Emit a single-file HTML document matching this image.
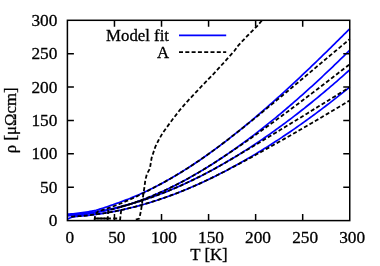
<!DOCTYPE html>
<html><head><meta charset="utf-8"><title>plot</title>
<style>
html,body{margin:0;padding:0;background:#fff;}
body{width:380px;height:266px;overflow:hidden;}
svg{display:block;will-change:transform;}
text{font-family:"Liberation Serif",serif;font-size:16.8px;fill:#000;stroke:#000;stroke-width:0.3px;}
text.n{font-size:17.3px;}
.ax path,.ax rect{stroke:#000;stroke-width:1.5;fill:none;}
.d{stroke:#000;stroke-width:1.8;fill:none;stroke-dasharray:4 2.3;}
.b{stroke:#0000ff;stroke-width:1.7;fill:none;}
</style></head><body>
<svg width="380" height="266" viewBox="0 0 380 266">
<rect x="0" y="0" width="380" height="266" fill="#fff"/>
<g class="cv">
<path class="b" d="M67.40,214.11 L69.29,214.01 L71.19,213.89 L73.08,213.74 L74.98,213.57 L76.87,213.38 L78.77,213.17 L80.66,212.93 L82.56,212.67 L84.45,212.39 L86.35,212.09 L88.24,211.77 L90.14,211.43 L92.03,211.06 L93.93,210.66 L95.82,210.21 L97.72,209.70 L99.61,209.15 L101.51,208.57 L103.40,207.97 L105.30,207.36 L107.19,206.73 L109.09,206.06 L110.98,205.38 L112.88,204.70 L114.77,204.04 L116.67,203.37 L118.56,202.70 L120.46,202.01 L122.35,201.31 L124.25,200.61 L126.14,199.90 L128.04,199.17 L129.93,198.42 L131.83,197.65 L133.72,196.87 L135.62,196.08 L137.51,195.26 L139.41,194.43 L141.30,193.58 L143.20,192.72 L145.09,191.84 L146.99,190.95 L148.88,190.04 L150.78,189.11 L152.67,188.17 L154.57,187.21 L156.46,186.24 L158.36,185.25 L160.25,184.25 L162.15,183.23 L164.04,182.20 L165.94,181.15 L167.83,180.09 L169.73,179.01 L171.62,177.92 L173.52,176.82 L175.41,175.70 L177.31,174.57 L179.20,173.42 L181.10,172.26 L182.99,171.08 L184.89,169.90 L186.78,168.70 L188.68,167.48 L190.57,166.25 L192.47,165.01 L194.36,163.76 L196.26,162.49 L198.15,161.22 L200.05,159.93 L201.94,158.62 L203.84,157.31 L205.73,155.98 L207.63,154.64 L209.52,153.29 L211.42,151.92 L213.31,150.55 L215.21,149.16 L217.10,147.76 L219.00,146.35 L220.89,144.93 L222.79,143.50 L224.68,142.06 L226.58,140.60 L228.47,139.14 L230.37,137.67 L232.26,136.18 L234.16,134.68 L236.05,133.18 L237.95,131.66 L239.84,130.14 L241.74,128.60 L243.63,127.06 L245.53,125.50 L247.42,123.94 L249.32,122.36 L251.21,120.78 L253.11,119.19 L255.00,117.59 L256.90,115.98 L258.79,114.36 L260.69,112.73 L262.58,111.09 L264.48,109.45 L266.37,107.80 L268.27,106.14 L270.16,104.47 L272.06,102.79 L273.95,101.11 L275.85,99.42 L277.74,97.72 L279.64,96.01 L281.53,94.29 L283.43,92.57 L285.32,90.84 L287.22,89.11 L289.11,87.37 L291.01,85.62 L292.90,83.86 L294.80,82.10 L296.69,80.33 L298.59,78.56 L300.48,76.78 L302.38,74.99 L304.27,73.20 L306.17,71.40 L308.06,69.60 L309.96,67.79 L311.85,65.97 L313.75,64.15 L315.64,62.33 L317.54,60.50 L319.43,58.66 L321.33,56.82 L323.22,54.98 L325.12,53.13 L327.01,51.28 L328.91,49.42 L330.80,47.56 L332.70,45.69 L334.59,43.83 L336.49,41.95 L338.38,40.08 L340.28,38.20 L342.17,36.31 L344.07,34.43 L345.96,32.54 L347.86,30.64 L349.75,28.75"/>
<path class="b" d="M67.40,215.85 L69.29,215.76 L71.19,215.65 L73.08,215.53 L74.98,215.39 L76.87,215.23 L78.77,215.06 L80.66,214.87 L82.56,214.66 L84.45,214.43 L86.35,214.19 L88.24,213.93 L90.14,213.65 L92.03,213.36 L93.93,213.05 L95.82,212.73 L97.72,212.39 L99.61,212.03 L101.51,211.65 L103.40,211.26 L105.30,210.86 L107.19,210.44 L109.09,210.00 L110.98,209.54 L112.88,209.07 L114.77,208.59 L116.67,208.09 L118.56,207.57 L120.46,207.04 L122.35,206.49 L124.25,205.93 L126.14,205.35 L128.04,204.75 L129.93,204.14 L131.83,203.52 L133.72,202.88 L135.62,202.23 L137.51,201.56 L139.41,200.88 L141.30,200.18 L143.20,199.46 L145.09,198.74 L146.99,198.00 L148.88,197.24 L150.78,196.47 L152.67,195.68 L154.57,194.88 L156.46,194.07 L158.36,193.24 L160.25,192.40 L162.15,191.55 L164.04,190.68 L165.94,189.80 L167.83,188.90 L169.73,187.99 L171.62,187.07 L173.52,186.13 L175.41,185.18 L177.31,184.22 L179.20,183.24 L181.10,182.25 L182.99,181.25 L184.89,180.23 L186.78,179.20 L188.68,178.16 L190.57,177.10 L192.47,176.03 L194.36,174.95 L196.26,173.86 L198.15,172.76 L200.05,171.64 L201.94,170.51 L203.84,169.37 L205.73,168.21 L207.63,167.04 L209.52,165.86 L211.42,164.67 L213.31,163.47 L215.21,162.26 L217.10,161.03 L219.00,159.79 L220.89,158.54 L222.79,157.28 L224.68,156.01 L226.58,154.72 L228.47,153.42 L230.37,152.12 L232.26,150.80 L234.16,149.47 L236.05,148.13 L237.95,146.78 L239.84,145.41 L241.74,144.04 L243.63,142.66 L245.53,141.26 L247.42,139.86 L249.32,138.44 L251.21,137.01 L253.11,135.58 L255.00,134.13 L256.90,132.67 L258.79,131.20 L260.69,129.73 L262.58,128.24 L264.48,126.74 L266.37,125.23 L268.27,123.71 L270.16,122.19 L272.06,120.65 L273.95,119.10 L275.85,117.55 L277.74,115.98 L279.64,114.40 L281.53,112.82 L283.43,111.23 L285.32,109.62 L287.22,108.01 L289.11,106.39 L291.01,104.76 L292.90,103.12 L294.80,101.47 L296.69,99.82 L298.59,98.15 L300.48,96.48 L302.38,94.80 L304.27,93.10 L306.17,91.41 L308.06,89.70 L309.96,87.98 L311.85,86.26 L313.75,84.53 L315.64,82.79 L317.54,81.04 L319.43,79.28 L321.33,77.52 L323.22,75.75 L325.12,73.97 L327.01,72.18 L328.91,70.39 L330.80,68.59 L332.70,66.78 L334.59,64.96 L336.49,63.14 L338.38,61.31 L340.28,59.47 L342.17,57.62 L344.07,55.77 L345.96,53.91 L347.86,52.05 L349.75,50.18"/>
<path class="b" d="M67.40,214.97 L69.29,214.85 L71.19,214.71 L73.08,214.56 L74.98,214.40 L76.87,214.23 L78.77,214.04 L80.66,213.84 L82.56,213.62 L84.45,213.40 L86.35,213.16 L88.24,212.90 L90.14,212.64 L92.03,212.36 L93.93,212.07 L95.82,211.76 L97.72,211.45 L99.61,211.12 L101.51,210.78 L103.40,210.42 L105.30,210.05 L107.19,209.67 L109.09,209.28 L110.98,208.88 L112.88,208.46 L114.77,208.03 L116.67,207.59 L118.56,207.13 L120.46,206.66 L122.35,206.18 L124.25,205.69 L126.14,205.19 L128.04,204.67 L129.93,204.15 L131.83,203.60 L133.72,203.05 L135.62,202.49 L137.51,201.91 L139.41,201.32 L141.30,200.72 L143.20,200.11 L145.09,199.49 L146.99,198.85 L148.88,198.20 L150.78,197.54 L152.67,196.87 L154.57,196.19 L156.46,195.50 L158.36,194.79 L160.25,194.07 L162.15,193.34 L164.04,192.60 L165.94,191.85 L167.83,191.09 L169.73,190.31 L171.62,189.53 L173.52,188.73 L175.41,187.92 L177.31,187.10 L179.20,186.27 L181.10,185.42 L182.99,184.57 L184.89,183.71 L186.78,182.83 L188.68,181.94 L190.57,181.04 L192.47,180.14 L194.36,179.22 L196.26,178.28 L198.15,177.34 L200.05,176.39 L201.94,175.43 L203.84,174.45 L205.73,173.47 L207.63,172.47 L209.52,171.46 L211.42,170.45 L213.31,169.42 L215.21,168.38 L217.10,167.33 L219.00,166.27 L220.89,165.20 L222.79,164.12 L224.68,163.03 L226.58,161.93 L228.47,160.82 L230.37,159.70 L232.26,158.57 L234.16,157.42 L236.05,156.27 L237.95,155.11 L239.84,153.94 L241.74,152.75 L243.63,151.56 L245.53,150.36 L247.42,149.15 L249.32,147.92 L251.21,146.69 L253.11,145.45 L255.00,144.20 L256.90,142.93 L258.79,141.66 L260.69,140.38 L262.58,139.09 L264.48,137.79 L266.37,136.48 L268.27,135.16 L270.16,133.83 L272.06,132.49 L273.95,131.14 L275.85,129.78 L277.74,128.41 L279.64,127.04 L281.53,125.65 L283.43,124.25 L285.32,122.85 L287.22,121.43 L289.11,120.01 L291.01,118.58 L292.90,117.14 L294.80,115.69 L296.69,114.23 L298.59,112.76 L300.48,111.28 L302.38,109.79 L304.27,108.30 L306.17,106.79 L308.06,105.28 L309.96,103.76 L311.85,102.22 L313.75,100.68 L315.64,99.14 L317.54,97.58 L319.43,96.01 L321.33,94.44 L323.22,92.85 L325.12,91.26 L327.01,89.66 L328.91,88.05 L330.80,86.44 L332.70,84.81 L334.59,83.18 L336.49,81.53 L338.38,79.88 L340.28,78.22 L342.17,76.56 L344.07,74.88 L345.96,73.20 L347.86,71.51 L349.75,69.81"/>
<path class="b" d="M67.40,219.34 L69.29,218.16 L71.19,217.45 L73.08,217.00 L74.98,216.70 L76.87,216.46 L78.77,216.27 L80.66,216.09 L82.56,215.91 L84.45,215.73 L86.35,215.54 L88.24,215.34 L90.14,215.13 L92.03,214.91 L93.93,214.68 L95.82,214.43 L97.72,214.18 L99.61,213.91 L101.51,213.63 L103.40,213.34 L105.30,213.03 L107.19,212.72 L109.09,212.39 L110.98,212.05 L112.88,211.70 L114.77,211.33 L116.67,210.96 L118.56,210.57 L120.46,210.17 L122.35,209.76 L124.25,209.34 L126.14,208.91 L128.04,208.46 L129.93,208.01 L131.83,207.54 L133.72,207.06 L135.62,206.57 L137.51,206.07 L139.41,205.56 L141.30,205.03 L143.20,204.50 L145.09,203.95 L146.99,203.39 L148.88,202.82 L150.78,202.24 L152.67,201.65 L154.57,201.05 L156.46,200.44 L158.36,199.81 L160.25,199.18 L162.15,198.53 L164.04,197.88 L165.94,197.21 L167.83,196.53 L169.73,195.84 L171.62,195.14 L173.52,194.43 L175.41,193.71 L177.31,192.98 L179.20,192.24 L181.10,191.49 L182.99,190.72 L184.89,189.95 L186.78,189.17 L188.68,188.37 L190.57,187.57 L192.47,186.75 L194.36,185.93 L196.26,185.10 L198.15,184.25 L200.05,183.40 L201.94,182.53 L203.84,181.66 L205.73,180.77 L207.63,179.88 L209.52,178.97 L211.42,178.06 L213.31,177.13 L215.21,176.20 L217.10,175.25 L219.00,174.30 L220.89,173.33 L222.79,172.36 L224.68,171.38 L226.58,170.38 L228.47,169.38 L230.37,168.37 L232.26,167.35 L234.16,166.32 L236.05,165.28 L237.95,164.23 L239.84,163.17 L241.74,162.10 L243.63,161.03 L245.53,159.94 L247.42,158.84 L249.32,157.74 L251.21,156.62 L253.11,155.50 L255.00,154.37 L256.90,153.23 L258.79,152.08 L260.69,150.92 L262.58,149.75 L264.48,148.58 L266.37,147.39 L268.27,146.20 L270.16,144.99 L272.06,143.78 L273.95,142.56 L275.85,141.33 L277.74,140.09 L279.64,138.85 L281.53,137.59 L283.43,136.33 L285.32,135.06 L287.22,133.78 L289.11,132.49 L291.01,131.19 L292.90,129.89 L294.80,128.58 L296.69,127.25 L298.59,125.92 L300.48,124.59 L302.38,123.24 L304.27,121.89 L306.17,120.52 L308.06,119.15 L309.96,117.78 L311.85,116.39 L313.75,115.00 L315.64,113.60 L317.54,112.19 L319.43,110.77 L321.33,109.34 L323.22,107.91 L325.12,106.47 L327.01,105.02 L328.91,103.57 L330.80,102.10 L332.70,100.63 L334.59,99.16 L336.49,97.67 L338.38,96.18 L340.28,94.68 L342.17,93.17 L344.07,91.65 L345.96,90.13 L347.86,88.60 L349.75,87.07"/>
<path class="d" d="M94.50,220.00 L95.30,214.50 L97.99,211.36 L99.68,210.87 L101.37,210.35 L103.06,209.82 L104.75,209.28 L106.44,208.72 L108.13,208.14 L109.82,207.54 L111.51,206.93 L113.20,206.33 L114.88,205.74 L116.57,205.13 L118.26,204.45 L119.95,203.76 L121.64,203.06 L123.33,202.36 L125.02,201.66 L126.71,200.94 L128.40,200.20 L130.09,199.46 L131.78,198.70 L133.47,197.92 L135.16,197.14 L136.85,196.34 L138.54,195.53 L140.23,194.70 L141.92,193.86 L143.61,193.01 L145.30,192.15 L146.99,191.27 L148.68,190.38 L150.37,189.48 L152.06,188.57 L153.75,187.64 L155.44,186.77 L157.13,185.89 L158.82,185.01 L160.51,184.11 L162.20,183.20 L163.89,182.28 L165.58,181.35 L167.26,180.41 L168.95,179.45 L170.64,178.49 L172.33,177.51 L174.02,176.52 L175.71,175.52 L177.40,174.51 L179.09,173.49 L180.78,172.45 L182.47,171.41 L184.16,170.35 L185.85,169.29 L187.54,168.21 L189.23,167.12 L190.92,166.03 L192.61,164.92 L194.30,163.80 L195.99,162.67 L197.68,161.54 L199.37,160.39 L201.06,159.23 L202.75,158.06 L204.44,156.89 L206.13,155.70 L207.82,154.50 L209.51,153.30 L211.20,152.08 L212.89,150.86 L214.58,149.62 L216.27,148.38 L217.96,147.13 L219.64,145.87 L221.33,144.60 L223.02,143.32 L224.71,142.03 L226.40,140.74 L228.09,139.43 L229.78,138.12 L231.47,136.80 L233.16,135.48 L234.85,134.16 L236.54,132.83 L238.23,131.49 L239.92,130.15 L241.61,128.81 L243.30,127.47 L244.99,126.12 L246.68,124.77 L248.37,123.41 L250.06,122.05 L251.75,120.69 L253.44,119.33 L255.13,117.96 L256.82,116.59 L258.51,115.21 L260.20,113.84 L261.89,112.46 L263.58,111.07 L265.27,109.69 L266.96,108.30 L268.65,106.91 L270.34,105.52 L272.02,104.13 L273.71,102.73 L275.40,101.33 L277.09,99.93 L278.78,98.53 L280.47,97.13 L282.16,95.72 L283.85,94.32 L285.54,92.91 L287.23,91.50 L288.92,90.09 L290.61,88.68 L292.30,87.26 L293.99,85.85 L295.68,84.43 L297.37,83.02 L299.06,81.60 L300.75,80.18 L302.44,78.76 L304.13,77.34 L305.82,75.93 L307.51,74.51 L309.20,73.09 L310.89,71.66 L312.58,70.24 L314.27,68.82 L315.96,67.40 L317.65,65.98 L319.34,64.56 L321.03,63.14 L322.72,61.72 L324.40,60.30 L326.09,58.89 L327.78,57.47 L329.47,56.05 L331.16,54.64 L332.85,53.22 L334.54,51.81 L336.23,50.39 L337.92,48.98 L339.61,47.57 L341.30,46.16 L342.99,44.75 L344.68,43.35 L346.37,41.94 L348.06,40.54 L349.75,39.14"/>
<path class="d" d="M97.60,218.50 L107.00,218.50"/>
<path class="d" d="M107.60,220.30 L108.25,210.19 L109.87,209.81 L111.49,209.42 L113.11,209.02 L114.73,208.60 L116.35,208.17 L117.97,207.73 L119.59,207.28 L121.21,206.82 L122.83,206.35 L124.45,205.86 L126.08,205.37 L127.70,204.86 L129.32,204.34 L130.94,203.82 L132.56,203.28 L134.18,202.73 L135.80,202.16 L137.42,201.59 L139.04,201.01 L140.66,200.42 L142.28,199.81 L143.90,199.20 L145.53,198.57 L147.15,197.93 L148.77,197.29 L150.39,196.63 L152.01,195.96 L153.63,195.28 L155.25,194.59 L156.87,193.89 L158.49,193.19 L160.11,192.47 L161.73,191.74 L163.35,191.00 L164.98,190.25 L166.60,189.49 L168.22,188.72 L169.84,187.94 L171.46,187.15 L173.08,186.35 L174.70,185.54 L176.32,184.72 L177.94,183.89 L179.56,183.05 L181.18,182.20 L182.80,181.35 L184.43,180.48 L186.05,179.60 L187.67,178.71 L189.29,177.82 L190.91,176.91 L192.53,176.00 L194.15,175.08 L195.77,174.14 L197.39,173.20 L199.01,172.25 L200.63,171.29 L202.25,170.32 L203.88,169.34 L205.50,168.36 L207.12,167.36 L208.74,166.35 L210.36,165.34 L211.98,164.32 L213.60,163.29 L215.22,162.25 L216.84,161.20 L218.46,160.14 L220.08,159.08 L221.70,158.01 L223.33,156.94 L224.95,155.87 L226.57,154.79 L228.19,153.70 L229.81,152.62 L231.43,151.53 L233.05,150.43 L234.67,149.33 L236.29,148.23 L237.91,147.12 L239.53,146.01 L241.15,144.90 L242.78,143.78 L244.40,142.66 L246.02,141.53 L247.64,140.40 L249.26,139.27 L250.88,138.14 L252.50,137.00 L254.12,135.86 L255.74,134.71 L257.36,133.56 L258.98,132.41 L260.60,131.25 L262.23,130.10 L263.85,128.94 L265.47,127.77 L267.09,126.60 L268.71,125.43 L270.33,124.26 L271.95,123.08 L273.57,121.91 L275.19,120.72 L276.81,119.54 L278.43,118.35 L280.05,117.16 L281.68,115.97 L283.30,114.78 L284.92,113.58 L286.54,112.38 L288.16,111.18 L289.78,109.97 L291.40,108.77 L293.02,107.56 L294.64,106.35 L296.26,105.13 L297.88,103.92 L299.50,102.70 L301.13,101.48 L302.75,100.26 L304.37,99.04 L305.99,97.81 L307.61,96.58 L309.23,95.36 L310.85,94.12 L312.47,92.89 L314.09,91.66 L315.71,90.42 L317.33,89.19 L318.95,87.95 L320.58,86.71 L322.20,85.46 L323.82,84.22 L325.44,82.98 L327.06,81.73 L328.68,80.48 L330.30,79.24 L331.92,77.99 L333.54,76.74 L335.16,75.48 L336.78,74.23 L338.40,72.98 L340.03,71.72 L341.65,70.47 L343.27,69.21 L344.89,67.96 L346.51,66.70 L348.13,65.44 L349.75,64.18"/>
<path class="d" d="M94.30,218.50 L119.40,218.50"/>
<path class="d" d="M120.00,220.30 L121.61,206.37 L123.14,205.98 L124.67,205.58 L126.20,205.17 L127.74,204.76 L129.27,204.33 L130.80,203.90 L132.33,203.46 L133.86,203.01 L135.39,202.56 L136.92,202.09 L138.45,201.62 L139.98,201.14 L141.52,200.66 L143.05,200.16 L144.58,199.66 L146.11,199.15 L147.64,198.63 L149.17,198.10 L150.70,197.57 L152.23,197.03 L153.76,196.48 L155.30,195.93 L156.83,195.36 L158.36,194.79 L159.89,194.21 L161.42,193.63 L162.95,193.03 L164.48,192.43 L166.01,191.82 L167.55,191.20 L169.08,190.58 L170.61,189.95 L172.14,189.31 L173.67,188.66 L175.20,188.01 L176.73,187.35 L178.26,186.68 L179.79,186.01 L181.33,185.32 L182.86,184.63 L184.39,183.94 L185.92,183.23 L187.45,182.52 L188.98,181.80 L190.51,181.07 L192.04,180.34 L193.57,179.60 L195.11,178.85 L196.64,178.10 L198.17,177.33 L199.70,176.57 L201.23,175.79 L202.76,175.01 L204.29,174.22 L205.82,173.42 L207.35,172.61 L208.89,171.80 L210.42,170.99 L211.95,170.16 L213.48,169.33 L215.01,168.49 L216.54,167.64 L218.07,166.79 L219.60,165.93 L221.13,165.06 L222.67,164.19 L224.20,163.31 L225.73,162.43 L227.26,161.53 L228.79,160.64 L230.32,159.75 L231.85,158.85 L233.38,157.96 L234.92,157.06 L236.45,156.16 L237.98,155.26 L239.51,154.36 L241.04,153.45 L242.57,152.55 L244.10,151.64 L245.63,150.74 L247.16,149.83 L248.70,148.92 L250.23,148.01 L251.76,147.09 L253.29,146.18 L254.82,145.27 L256.35,144.35 L257.88,143.44 L259.41,142.52 L260.94,141.60 L262.48,140.68 L264.01,139.76 L265.54,138.84 L267.07,137.92 L268.60,136.99 L270.13,136.07 L271.66,135.15 L273.19,134.22 L274.72,133.29 L276.26,132.36 L277.79,131.44 L279.32,130.51 L280.85,129.58 L282.38,128.65 L283.91,127.71 L285.44,126.78 L286.97,125.85 L288.50,124.91 L290.04,123.98 L291.57,123.04 L293.10,122.11 L294.63,121.17 L296.16,120.23 L297.69,119.30 L299.22,118.36 L300.75,117.42 L302.28,116.48 L303.82,115.54 L305.35,114.60 L306.88,113.66 L308.41,112.71 L309.94,111.77 L311.47,110.83 L313.00,109.89 L314.53,108.94 L316.07,108.00 L317.60,107.06 L319.13,106.11 L320.66,105.17 L322.19,104.22 L323.72,103.28 L325.25,102.33 L326.78,101.38 L328.31,100.44 L329.85,99.49 L331.38,98.55 L332.91,97.60 L334.44,96.65 L335.97,95.70 L337.50,94.76 L339.03,93.81 L340.56,92.86 L342.09,91.92 L343.63,90.97 L345.16,90.02 L346.69,89.07 L348.22,88.12 L349.75,87.18"/>
<path class="d" d="M71.16,216.65 L73.03,216.55 L74.90,216.45 L76.77,216.33 L78.64,216.20 L80.51,216.05 L82.38,215.90 L84.25,215.73 L86.12,215.55 L87.99,215.36 L89.86,215.16 L91.73,214.94 L93.60,214.72 L95.47,214.48 L97.34,214.23 L99.21,213.97 L101.08,213.69 L102.95,213.41 L104.82,213.11 L106.69,212.80 L108.56,212.48 L110.43,212.15 L112.30,211.81 L114.17,211.45 L116.04,211.09 L117.91,210.71 L119.78,210.32 L121.65,209.92 L123.52,209.51 L125.39,209.08 L127.26,208.65 L129.13,208.20 L131.00,207.75 L132.86,207.28 L134.73,206.80 L136.60,206.31 L138.47,205.81 L140.34,205.30 L142.21,204.78 L144.08,204.24 L145.95,203.70 L147.82,203.14 L149.69,202.58 L151.56,202.00 L153.43,201.41 L155.30,200.81 L157.17,200.20 L159.04,199.58 L160.91,198.95 L162.78,198.31 L164.65,197.66 L166.52,197.00 L168.39,196.33 L170.26,195.65 L172.13,194.95 L174.00,194.25 L175.87,193.54 L177.74,192.81 L179.61,192.08 L181.48,191.33 L183.35,190.58 L185.22,189.81 L187.09,189.04 L188.96,188.26 L190.83,187.46 L192.70,186.66 L194.56,185.84 L196.43,185.02 L198.30,184.18 L200.17,183.34 L202.04,182.48 L203.91,181.62 L205.78,180.75 L207.65,179.86 L209.52,178.97 L211.39,178.07 L213.26,177.16 L215.13,176.23 L217.00,175.30 L218.87,174.36 L220.74,173.41 L222.61,172.45 L224.48,171.49 L226.35,170.52 L228.22,169.54 L230.09,168.57 L231.96,167.59 L233.83,166.60 L235.70,165.61 L237.57,164.62 L239.44,163.63 L241.31,162.63 L243.18,161.63 L245.05,160.63 L246.92,159.62 L248.79,158.61 L250.66,157.60 L252.53,156.59 L254.40,155.57 L256.26,154.54 L258.13,153.52 L260.00,152.49 L261.87,151.46 L263.74,150.43 L265.61,149.39 L267.48,148.35 L269.35,147.31 L271.22,146.27 L273.09,145.22 L274.96,144.17 L276.83,143.12 L278.70,142.06 L280.57,141.01 L282.44,139.95 L284.31,138.89 L286.18,137.82 L288.05,136.75 L289.92,135.69 L291.79,134.61 L293.66,133.54 L295.53,132.46 L297.40,131.39 L299.27,130.31 L301.14,129.22 L303.01,128.14 L304.88,127.05 L306.75,125.96 L308.62,124.87 L310.49,123.78 L312.36,122.69 L314.23,121.59 L316.10,120.49 L317.97,119.39 L319.83,118.29 L321.70,117.19 L323.57,116.08 L325.44,114.97 L327.31,113.87 L329.18,112.76 L331.05,111.64 L332.92,110.53 L334.79,109.42 L336.66,108.30 L338.53,107.18 L340.40,106.06 L342.27,104.94 L344.14,103.82 L346.01,102.70 L347.88,101.58 L349.75,100.45"/>
<path class="d" d="M135.80,219.60 L139.30,218.50 L139.90,216.00 L141.10,210.00 L142.40,200.80 L143.70,192.00 L144.50,186.50 L145.30,180.30 L146.90,174.00 L149.90,168.60 L150.80,162.90 L151.60,158.00 L152.90,154.00 L155.30,146.90 L158.40,140.50 L162.40,133.40 L167.00,127.00 L172.50,119.50 L180.00,109.80 L187.90,100.80 L195.80,92.40 L202.50,85.30 L208.40,79.20 L211.60,76.00 L219.50,67.40 L227.40,58.70 L234.50,50.80 L238.20,45.60 L247.70,35.50 L257.10,26.10 L261.90,20.50"/>
</g>
<g class="ax">
<rect x="67.4" y="20.3" width="282.35" height="200.29999999999998"/>
<path d="M114.46,220.60 v-6.50 M114.46,20.30 v6.50 M67.40,187.22 h6.50 M349.75,187.22 h-6.50"/>
<path d="M161.52,220.60 v-6.50 M161.52,20.30 v6.50 M67.40,153.83 h6.50 M349.75,153.83 h-6.50"/>
<path d="M208.58,220.60 v-6.50 M208.58,20.30 v6.50 M67.40,120.45 h6.50 M349.75,120.45 h-6.50"/>
<path d="M255.63,220.60 v-6.50 M255.63,20.30 v6.50 M67.40,87.07 h6.50 M349.75,87.07 h-6.50"/>
<path d="M302.69,220.60 v-6.50 M302.69,20.30 v6.50 M67.40,53.68 h6.50 M349.75,53.68 h-6.50"/>
</g>
<g>
<text class="n" x="69.80" y="243.00" text-anchor="middle">0</text>
<text class="n" x="57.30" y="226.20" text-anchor="end">0</text>
<text class="n" x="116.86" y="243.00" text-anchor="middle">50</text>
<text class="n" x="57.30" y="192.82" text-anchor="end">50</text>
<text class="n" x="163.92" y="243.00" text-anchor="middle">100</text>
<text class="n" x="57.30" y="159.43" text-anchor="end">100</text>
<text class="n" x="210.98" y="243.00" text-anchor="middle">150</text>
<text class="n" x="57.30" y="126.05" text-anchor="end">150</text>
<text class="n" x="258.03" y="243.00" text-anchor="middle">200</text>
<text class="n" x="57.30" y="92.67" text-anchor="end">200</text>
<text class="n" x="305.09" y="243.00" text-anchor="middle">250</text>
<text class="n" x="57.30" y="59.28" text-anchor="end">250</text>
<text class="n" x="352.15" y="243.00" text-anchor="middle">300</text>
<text class="n" x="57.30" y="25.90" text-anchor="end">300</text>
<text x="209" y="260.3" text-anchor="middle">T [K]</text>
<text transform="translate(16.0,120.3) rotate(-90)" text-anchor="middle">ρ [μΩcm]</text>
<text x="169" y="40.9" text-anchor="end">Model fit</text>
<text x="169" y="58.0" text-anchor="end">A</text>
</g>
<path class="b" d="M179,35.3 H226.2"/>
<path class="d" d="M179,52.2 H226.2"/>
</svg>
</body></html>
